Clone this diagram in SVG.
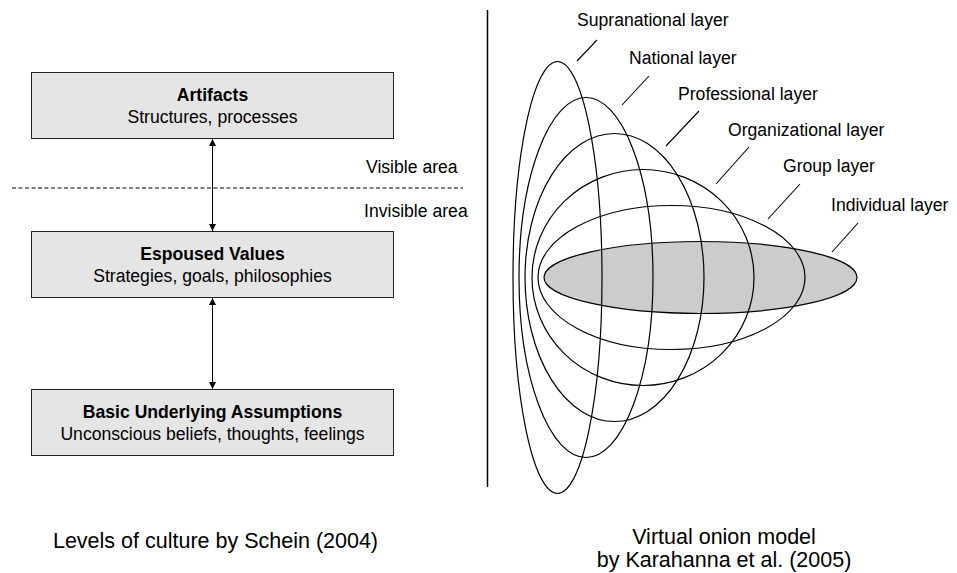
<svg xmlns="http://www.w3.org/2000/svg" width="957" height="573" viewBox="0 0 957 573">
<style>
text{font-family:"Liberation Sans",Arial,Helvetica,sans-serif;fill:#000}
.t{font-size:17.6px}
.b{font-size:17.6px;font-weight:bold}
.cap{font-size:21.5px}
.box{fill:#e5e5e5;stroke:#222;stroke-width:1}
.ring{fill:none;stroke:#000;stroke-width:1.2}
.lead{stroke:#000;stroke-width:1.1}
.conn{stroke:#000;stroke-width:1;fill:none}
</style>
<defs>
<marker id="ah" viewBox="0 0 10 10" refX="10" refY="5" markerWidth="7" markerHeight="7" markerUnits="userSpaceOnUse" orient="auto-start-reverse">
<path d="M0,0 L10,5 L0,10 Z" fill="#000"/>
</marker>
</defs>
<rect width="957" height="573" fill="#fff"/>
<g id="artifacts">
<rect class="box" x="31.5" y="72.5" width="362" height="66"/>
<text class="b" x="212.5" y="101" text-anchor="middle">Artifacts</text>
<text class="t" x="212.5" y="123" text-anchor="middle">Structures, processes</text>
</g>
<g id="espoused">
<rect class="box" x="31.5" y="231.5" width="362" height="66"/>
<text class="b" x="212.5" y="260" text-anchor="middle">Espoused Values</text>
<text class="t" x="212.5" y="282" text-anchor="middle">Strategies, goals, philosophies</text>
</g>
<g id="assumptions">
<rect class="box" x="31.5" y="389.5" width="362" height="66"/>
<text class="b" x="212.5" y="418" text-anchor="middle">Basic Underlying Assumptions</text>
<text class="t" x="212.5" y="440" text-anchor="middle">Unconscious beliefs, thoughts, feelings</text>
</g>
<g id="connectors">
<line class="conn" x1="212.5" y1="139" x2="212.5" y2="231" marker-start="url(#ah)" marker-end="url(#ah)"/>
<line class="conn" x1="212.5" y1="298" x2="212.5" y2="389" marker-start="url(#ah)" marker-end="url(#ah)"/>
</g>
<g id="visibility">
<line x1="12" y1="188" x2="463" y2="188" stroke="#000" stroke-width="1" stroke-dasharray="4 2.5"/>
<text class="t" x="366" y="173">Visible area</text>
<text class="t" x="364" y="217">Invisible area</text>
</g>
<line id="divider" x1="487.5" y1="10" x2="487.5" y2="487" stroke="#000" stroke-width="1.5"/>
<g id="onion">
<ellipse id="individual" cx="700.5" cy="277.5" rx="156.5" ry="36" fill="#cccccc" stroke="#000" stroke-width="1.2"/>
<ellipse id="group" class="ring" cx="671.5" cy="277.5" rx="133.5" ry="72"/>
<ellipse id="organizational" class="ring" cx="643" cy="277.5" rx="111" ry="108"/>
<ellipse id="professional" class="ring" cx="614.5" cy="277.5" rx="89.5" ry="144"/>
<ellipse id="national" class="ring" cx="586" cy="277.5" rx="67" ry="180"/>
<ellipse id="supranational" class="ring" cx="557.5" cy="277.5" rx="44.5" ry="216"/>
</g>
<g id="onion-labels">
<line class="lead" x1="597" y1="40" x2="577" y2="61"/>
<text class="t" x="577" y="26">Supranational layer</text>
<line class="lead" x1="649" y1="76" x2="622" y2="105"/>
<text class="t" x="629" y="64">National layer</text>
<line class="lead" x1="699" y1="111" x2="666" y2="146"/>
<text class="t" x="678" y="100">Professional layer</text>
<line class="lead" x1="749" y1="147" x2="716" y2="184"/>
<text class="t" x="728" y="136">Organizational layer</text>
<line class="lead" x1="800" y1="184" x2="768" y2="219"/>
<text class="t" x="783" y="172">Group layer</text>
<line class="lead" x1="858" y1="223" x2="832" y2="252"/>
<text class="t" x="831" y="211">Individual layer</text>
</g>
<g id="captions">
<text class="cap" x="215.5" y="548" text-anchor="middle">Levels of culture by Schein (2004)</text>
<text class="cap" x="724" y="544" text-anchor="middle">Virtual onion model</text>
<text class="cap" x="724" y="567" text-anchor="middle">by Karahanna et al. (2005)</text>
</g>
</svg>
